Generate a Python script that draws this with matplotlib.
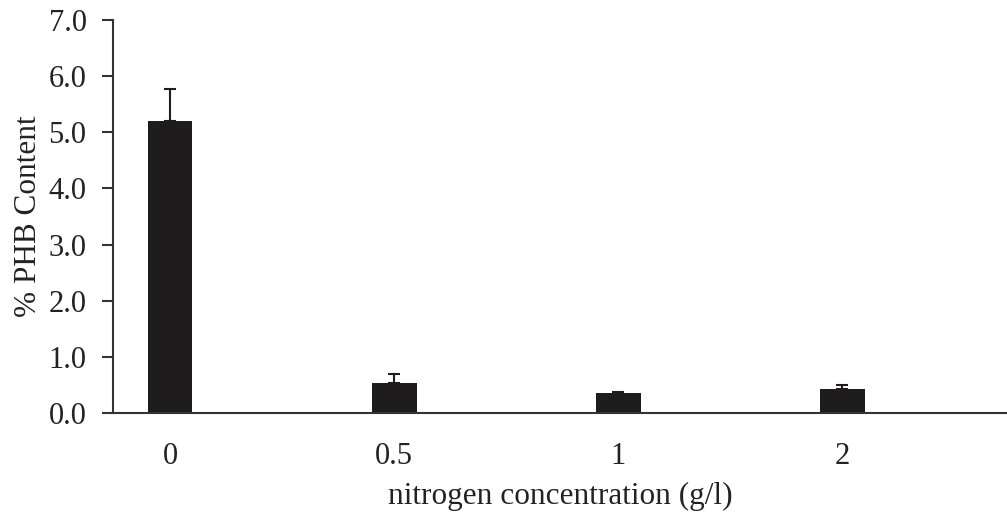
import numpy as np
import matplotlib.pyplot as plt

# data
categories = ['0', '0.5', '1', '2']
phb = [5.20, 0.53, 0.35, 0.42]
err = [0.57, 0.16, 0.03, 0.08]

plt.rcParams['font.family'] = ['Liberation Serif', 'DejaVu Serif']

fig = plt.figure(figsize=(10.07, 5.14), dpi=100)
ax = fig.add_axes([113 / 1007, (514 - 413) / 514, 1 - 113 / 1007, (413 - 20) / 514])

x = np.arange(len(categories))
ax.bar(x, phb, width=0.2, color='#1e1c1d', zorder=2)
ax.errorbar(x, phb, yerr=[np.zeros(len(err)), err], fmt='none',
            ecolor='#1e1c1d', elinewidth=1.5, capsize=4.5, capthick=1.5, zorder=3)

ax.set_xlim(-0.254, 3.734)
ax.set_ylim(0, 7)
ax.set_yticks(np.arange(0, 7.5, 1.0))
ax.set_yticklabels(['%.1f' % v for v in np.arange(0, 7.5, 1.0)])
ax.set_xticks(x)
ax.set_xticklabels(categories)

ax.spines['top'].set_visible(False)
ax.spines['right'].set_visible(False)
for s in ['left', 'bottom']:
    ax.spines[s].set_linewidth(1.5)
    ax.spines[s].set_color('#333333')

ax.tick_params(axis='y', direction='out', length=8, width=1.5, color='#333333',
               labelsize=22, pad=11, labelcolor='#222222')
ax.tick_params(axis='x', length=0, labelsize=22, pad=21, labelcolor='#222222')

ax.set_ylabel('% PHB Content', fontsize=22.5, color='#222222', labelpad=4)
ax.set_xlabel('nitrogen concentration (g/l)', fontsize=22.5, color='#222222', labelpad=8)

fig.savefig('out.png', dpi=100)
